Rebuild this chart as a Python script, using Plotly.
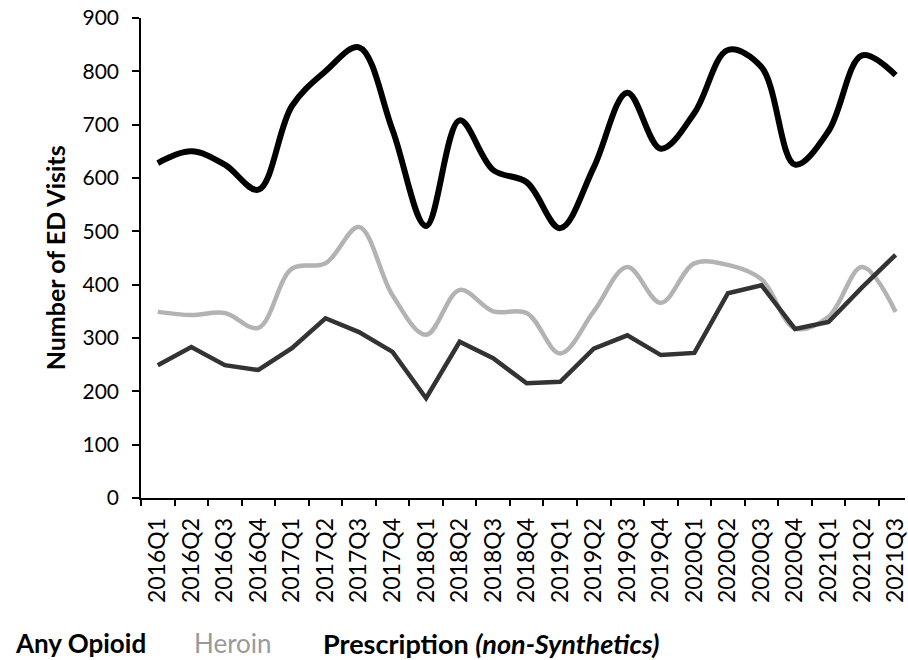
import plotly.graph_objects as go

quarters = ["2016Q1", "2016Q2", "2016Q3", "2016Q4",
            "2017Q1", "2017Q2", "2017Q3", "2017Q4",
            "2018Q1", "2018Q2", "2018Q3", "2018Q4",
            "2019Q1", "2019Q2", "2019Q3", "2019Q4",
            "2020Q1", "2020Q2", "2020Q3", "2020Q4",
            "2021Q1", "2021Q2", "2021Q3"]

any_opioid = [628, 650, 625, 578, 735, 800, 845, 690, 510, 708, 615, 592,
              506, 620, 760, 655, 722, 840, 808, 625, 688, 830, 793]

heroin = [349, 343, 347, 319, 430, 440, 508, 380, 306, 390, 350, 347,
          271, 350, 433, 366, 440, 437, 410, 318, 340, 433, 349]

prescription = [249, 283, 249, 240, 281, 337, 311, 274, 187, 293, 262, 215,
                218, 280, 305, 268, 272, 384, 399, 317, 330, 395, 456]

y_ticks = [0, 100, 200, 300, 400, 500, 600, 700, 800, 900]

FONT = "Lato"

fig = go.Figure()
fig.add_trace(go.Scatter(x=quarters, y=heroin, mode="lines", name="Heroin",
                         line=dict(color="#b3b3b3", width=4.5, shape="spline", smoothing=1)))
fig.add_trace(go.Scatter(x=quarters, y=prescription, mode="lines", name="Prescription",
                         line=dict(color="#333333", width=4.5)))
fig.add_trace(go.Scatter(x=quarters, y=any_opioid, mode="lines", name="Any Opioid",
                         line=dict(color="#000000", width=6, shape="spline", smoothing=1)))

fig.update_layout(
    width=908, height=660,
    margin=dict(l=141, r=0, t=18, b=162),
    paper_bgcolor="white", plot_bgcolor="white",
    showlegend=False,
    font=dict(family=FONT, color="#000000"),
)

fig.update_xaxes(
    type="category", categoryorder="array", categoryarray=quarters,
    range=[-0.5, 22.28],
    showline=True, linecolor="#000000", linewidth=1.5,
    ticks="outside", tickson="boundaries", ticklen=6, tickcolor="#000000", tickwidth=1.5,
    ticklabelstandoff=9,
    tickangle=-90, tickfont=dict(family=FONT, size=23, color="#000000"),
    showgrid=False, zeroline=False,
)
fig.update_yaxes(
    range=[0, 900], tickvals=y_ticks,
    showline=True, linecolor="#000000", linewidth=1.5,
    ticks="outside", ticklen=7, tickcolor="#000000", tickwidth=1.5,
    ticklabelstandoff=9,
    tickfont=dict(family=FONT, size=21, color="#000000"),
    showgrid=False, zeroline=False,
)

def px_x(p):
    return (p - 141) / 767.0

def px_y(p):
    return (498 - p) / 480.0

fig.add_annotation(text="<b>Number of ED Visits</b>", xref="paper", yref="paper",
                   x=px_x(55), y=0.5, textangle=-90, showarrow=False,
                   xanchor="center", yanchor="middle",
                   font=dict(family=FONT, size=25, color="#000000"))

fig.add_annotation(text="<b>Any Opioid</b>", xref="paper", yref="paper",
                   x=px_x(12), y=px_y(643), showarrow=False,
                   xanchor="left", yanchor="middle",
                   font=dict(family=FONT, size=26, color="#000000"))
fig.add_annotation(text="Heroin", xref="paper", yref="paper",
                   x=px_x(192), y=px_y(643), showarrow=False,
                   xanchor="left", yanchor="middle",
                   font=dict(family=FONT, size=26, color="#9a9a9a"))
fig.add_annotation(text="<b>Prescription <i>(non-Synthetics)</i></b>", xref="paper", yref="paper",
                   x=px_x(322), y=px_y(643), showarrow=False,
                   xanchor="left", yanchor="middle",
                   font=dict(family=FONT, size=27, color="#000000"))

fig.write_html("out.html",
               config={"displayModeBar": False},
               post_script="document.body.style.margin='0';document.body.style.overflow='hidden';")
